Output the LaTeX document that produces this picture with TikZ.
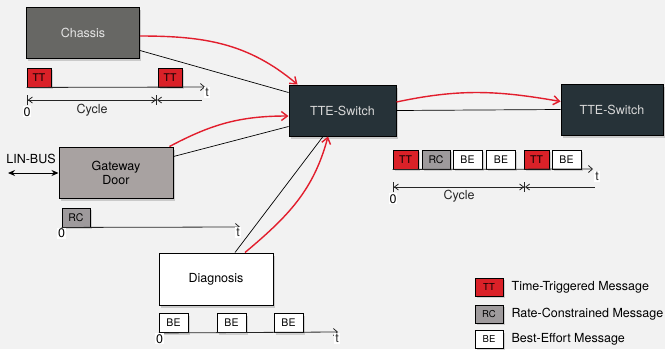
\documentclass[tikz,border=0pt]{standalone}
\usepackage{fontspec}
\setmainfont{TeX Gyre Heros}
\usetikzlibrary{arrows.meta,shadows}

\newcommand{\boxfont}{\fontsize{12.5}{14}\selectfont}
\newcommand{\msgfont}{\fontsize{10.5}{12}\selectfont}

\begin{document}
\begin{tikzpicture}[x=1pt, y=-1pt,
    unit/.style={draw=black, line width=1pt, minimum width=113pt, minimum height=51pt, align=center, font=\boxfont,
      drop shadow={opacity=0.35, shadow xshift=1.5pt, shadow yshift=-2.5pt}},
    msg/.style={draw=black, line width=0.9pt, minimum height=19pt, inner sep=0pt, font=\msgfont,
      drop shadow={opacity=0.3, shadow xshift=1.5pt, shadow yshift=-2pt}},
    link/.style={black, line width=0.7pt},
    flow/.style={draw=flowred, line width=1.4pt, -{Straight Barb[length=6pt,width=9pt]}},
    axis/.style={black!85, line width=0.8pt, -{Straight Barb[length=4pt,width=7pt]}},
    cycle/.style={black!85, line width=0.8pt, {Bar[width=10pt]Straight Barb[length=4pt,width=6pt]}-{Straight Barb[length=4pt,width=6pt]Bar[width=10pt]}},
    rest/.style={black!85, line width=0.8pt, {Straight Barb[length=4pt,width=6pt]}-},
    lbl/.style={font=\boxfont, inner sep=1pt, fill=white}
  ]

\definecolor{bg}{RGB}{242,242,242}
\definecolor{ttred}{RGB}{218,33,40}
\definecolor{rcgray}{RGB}{158,154,156}
\definecolor{chassisgray}{RGB}{103,103,100}
\definecolor{doorgray}{RGB}{168,162,161}
\definecolor{switchdark}{RGB}{38,50,56}
\definecolor{flowred}{RGB}{226,30,45}

\fill[bg] (0,0) rectangle (665,349);
\useasboundingbox (0,0) rectangle (665,349);

% units
\node[unit, fill=chassisgray, text=white!90!black] (chassis) at (83,32.5) {Chassis};
\node[unit, fill=doorgray, minimum width=114pt] (door) at (116,172.5) {Gateway\\Door};
\node[unit, fill=white, minimum width=114pt, minimum height=52pt] (diag) at (216,279) {Diagnosis};
\node[unit, fill=switchdark, text=white!85!black, minimum width=107pt] (sw1) at (342.5,110.5) {TTE-Switch};
\node[unit, fill=switchdark, text=white!85!black, minimum width=102pt] (sw2) at (612,109.5) {TTE-Switch};

% links
\draw[link] ([yshift=8pt]chassis.south east) -- ([yshift=-8pt]sw1.north west);
\draw[link] ([yshift=-10pt]door.north east) -- ([yshift=10pt]sw1.south west);
\draw[link] ([xshift=19pt]diag.north) -- ([xshift=-19.5pt]sw1.south);
\draw[link] (sw1.east) -- (sw2.west);

\draw[flow] ([yshift=-3.5pt]chassis.east) to[out=0, in=140] ([xshift=9pt]sw1.north west);
\draw[flow] ([xshift=-4pt]door.north east) to[out=28, in=180] ([yshift=-5.5pt]sw1.west);
\draw[flow] ([xshift=29pt]diag.north) to[out=40, in=-105] ([xshift=-14.5pt]sw1.south);
\draw[flow] ([yshift=8.5pt]sw1.east) to[out=12, in=170] ([yshift=8pt]sw2.west);

% LIN bus
\node[font=\boxfont, inner sep=1pt] (lin) at (31,159) {LIN-BUS};
\coordinate (linend) at (8,173);
\draw[line width=1pt, {Stealth[length=7pt,width=6pt]}-{Stealth[length=7pt,width=6pt]}] (linend) -- (door.west |- linend);

% chassis timeline
\node[msg, fill=ttred, minimum width=24pt] (c1) at (39,77.5) {TT};
\node[msg, fill=ttred, minimum width=24pt] (c2) at (170,77.5) {TT};
\coordinate (cend) at (205,87);
\draw[axis] (c1.south west) -- (cend) node[lbl, anchor=north west, xshift=-1pt] {t};
\draw[cycle] (27,100) coordinate (cz) -- (157,100) coordinate (cm) node[midway, lbl, below=3pt, fill=none] {Cycle};
\draw[rest] (cm) -- (202,100);
\node[lbl, anchor=north] at ([yshift=-6pt]cz) {0};

% gateway timeline
\node[msg, fill=rcgray, minimum width=28pt] (g1) at (76,217.5) {RC};
\coordinate (gend) at (240,227);
\draw[axis] (g1.south west) -- (gend) node[lbl, anchor=north, xshift=-2pt] {t};
\node[lbl, anchor=north] at (g1.south west) {0};

% diagnosis timeline
\foreach \x [count=\i] in {173.5,231.5,288.5}
  \node[msg, fill=white, minimum width=29pt] (d\i) at (\x,323) {BE};
\coordinate (dend) at (338,332);
\draw[axis] (d1.south west) -- (dend) node[lbl, anchor=north, xshift=-1pt, yshift=-1pt] {t};
\node[lbl, anchor=north] at ([xshift=1pt]d1.south west) {0};

% switch timeline
\foreach \x/\c/\w/\t [count=\i] in {405.5/ttred/25/TT, 436/rcgray/28/RC, 467.5/white/29/BE, 501/white/29/BE, 536.5/ttred/25/TT, 566.5/white/29/BE}
  \node[msg, fill=\c, minimum width=\w pt] (s\i) at (\x,159.5) {\t};
\coordinate (send) at (593,169);
\draw[axis] (s1.south west) -- (send) node[lbl, anchor=north west, xshift=1pt, yshift=-2pt] {t};
\draw[cycle] (393,187) coordinate (sz) -- (525,187) coordinate (sm) node[midway, lbl, below=2pt, fill=none] {Cycle};
\draw[rest] (sm) -- (595,187);
\node[lbl, anchor=north] at ([yshift=-6pt]sz) {0};

% legend
\foreach \y/\c/\t/\txt [count=\i] in {287/ttred/TT/Time-Triggered Message, 314/rcgray/RC/Rate-Constrained Message, 339.5/white/BE/Best-Effort Message} {
  \node[msg, fill=\c, minimum width=28pt, minimum height=18pt, font=\fontsize{9.5}{11}\selectfont] (k\i) at (489,\y) {\t};
  \node[font=\boxfont, anchor=west, inner sep=0pt] (kt\i) at ([xshift=8pt]k\i.east) {\txt};
}
\end{tikzpicture}
\end{document}
